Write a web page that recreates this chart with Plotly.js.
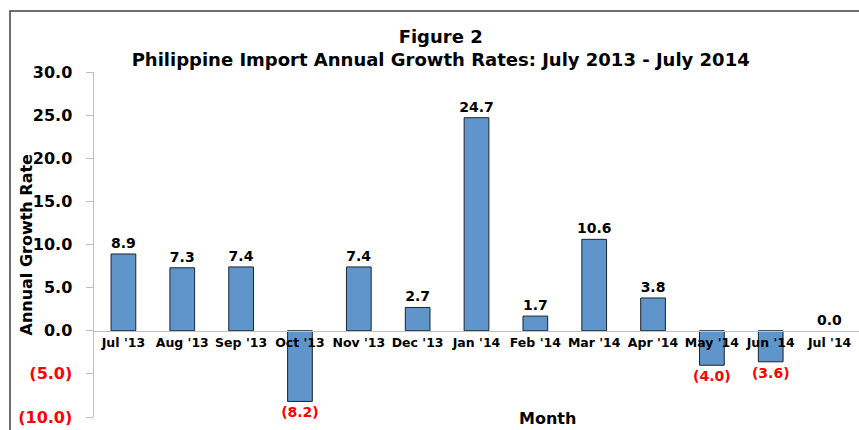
<!DOCTYPE html>
<html><head><meta charset="utf-8">
<script src="https://cdn.plot.ly/plotly-3.0.1.min.js"></script>
<style>html,body{margin:0;padding:0;background:#fff;overflow:hidden}#c{width:859px;height:430px}</style>
</head><body><div id="c"></div>
<script>
const months = ["Jul '13","Aug '13","Sep '13","Oct '13","Nov '13","Dec '13","Jan '14","Feb '14","Mar '14","Apr '14","May '14","Jun '14","Jul '14"];
const growth = [8.9, 7.3, 7.4, -8.2, 7.4, 2.7, 24.7, 1.7, 10.6, 3.8, -4.0, -3.6, 0.0];
const yTicks = [-10, -5, 0, 5, 10, 15, 20, 25, 30];

const fmt = v => v < 0 ? '(' + Math.abs(v).toFixed(1) + ')' : v.toFixed(1);
const FONT = '"DejaVu Sans", sans-serif';

const trace = {
  type: 'bar', x: months, y: growth,
  marker: {color: '#5F95CA', line: {color: '#1b2430', width: growth.map(v => v === 0 ? 0 : 1)}},
  width: 0.42,
  text: growth.map(fmt), textposition: 'outside', cliponaxis: false, constraintext: 'none',
  textfont: {family: FONT, size: 14, color: growth.map(v => v < 0 ? '#ff0000' : '#000'), weight: 'bold'},
  hoverinfo: 'skip'
};

const layout = {
  width: 859, height: 430,
  margin: {l: 94, r: 0, t: 72, b: 13},
  paper_bgcolor: '#fff', plot_bgcolor: '#fff',
  font: {family: FONT, color: '#000'},
  showlegend: false,
  title: {text: '<b>Figure 2</b><br><b>Philippine Import Annual Growth Rates: July 2013 - July 2014</b>',
    x: 0.513, xanchor: 'center', y: 0.9, yanchor: 'top', font: {size: 18, family: FONT, color: '#000'}},
  xaxis: {type: 'category', anchor: 'free', position: 0.25, showline: true, linecolor: '#bfbfbf', linewidth: 1.5,
    ticks: '', showgrid: false, zeroline: false, range: [-0.5, 12.5],
    tickfont: {size: 12.5, family: FONT, color: '#000', weight: 'bold'}},
  yaxis: {range: [-10, 30], tickvals: yTicks,
    ticktext: yTicks.map(v => v < 0 ? '<span style="color:#ff0000">' + fmt(v) + '</span>' : fmt(v)),
    showline: true, linecolor: '#bfbfbf', linewidth: 1.5, ticks: 'outside', ticklen: 7, tickcolor: '#bfbfbf',
    ticklabelstandoff: 10,
    showgrid: false, zeroline: false,
    tickfont: {size: 16, family: FONT, color: '#000', weight: 'bold'}},
  annotations: [
    {text: '<b>Month</b>', xref: 'paper', yref: 'paper', x: 0.593, y: -0.003, xanchor: 'center', yanchor: 'middle',
      showarrow: false, font: {size: 16, family: FONT, color: '#000'}},
    {text: '<b>Annual Growth Rate</b>', xref: 'paper', yref: 'paper', x: -0.0876, y: 0.5, xanchor: 'center', yanchor: 'middle',
      textangle: -90, showarrow: false, font: {size: 16, family: FONT, color: '#000'}}
  ],
  shapes: [{type: 'rect', xref: 'paper', yref: 'paper', x0: -0.1098, x1: 1.05, y0: -0.2, y1: 1.1768,
    line: {color: '#404040', width: 1.5}, fillcolor: 'rgba(0,0,0,0)', layer: 'below'}]
};

Plotly.newPlot('c', [trace], layout, {displayModeBar: false, staticPlot: true});
</script></body></html>
